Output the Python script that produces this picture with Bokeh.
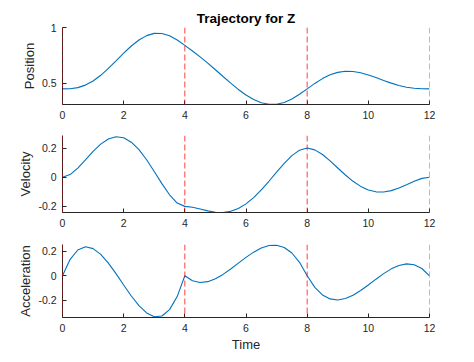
from bokeh.plotting import figure
from bokeh.models import Range1d, Span, FixedTicker, CustomJSTickFormatter, ColumnDataSource
from bokeh.layouts import column
from bokeh.embed import file_html
from bokeh.resources import INLINE

# ---- data ----
time = [0, 0.25, 0.5, 0.75, 1, 1.25, 1.5, 1.75, 2, 2.25, 2.5, 2.75, 3, 3.25, 3.5, 3.75,
        4, 4.25, 4.5, 4.75, 5, 5.25, 5.5, 5.75, 6, 6.25, 6.5, 6.75, 7, 7.25, 7.5, 7.75,
        8, 8.25, 8.5, 8.75, 9, 9.25, 9.5, 9.75, 10, 10.25, 10.5, 10.75, 11, 11.25, 11.5, 11.75, 12]

position = [0.45, 0.4516, 0.4612, 0.4838, 0.5208, 0.5717, 0.6331, 0.7010, 0.770, 0.8343,
            0.8883, 0.9271, 0.9473, 0.9467, 0.9259, 0.8881, 0.84,
            0.7895, 0.7367, 0.6805, 0.6215, 0.5609, 0.5012, 0.4449, 0.395, 0.3544,
            0.3259, 0.3115, 0.3122, 0.3286, 0.3592, 0.4012, 0.45,
            0.4989, 0.5421, 0.5757, 0.5977, 0.6074, 0.6056, 0.5941, 0.575, 0.5513,
            0.5258, 0.5014, 0.4805, 0.4647, 0.4550, 0.4507, 0.45]

velocity = [0, 0.0181, 0.0623, 0.1191, 0.1771, 0.2271, 0.2622, 0.2775, 0.2703, 0.2402,
            0.1888, 0.1199, 0.0396, -0.0440, -0.1205, -0.1774, -0.2,
            -0.2055, -0.2178, -0.2310, -0.2403, -0.2422, -0.2341, -0.2144, -0.1828, -0.1398,
            -0.0872, -0.0278, 0.0347, 0.0952, 0.1478, 0.1855, 0.2,
            0.1875, 0.1555, 0.1119, 0.0633, 0.0151, -0.0281, -0.0630, -0.0875, -0.1003,
            -0.1015, -0.0921, -0.0742, -0.0512, -0.0273, -0.0081, 0]

acceleration = [0, 0.1343, 0.2102, 0.2364, 0.2215, 0.1742, 0.1033, 0.0173, -0.075, -0.1650,
                -0.2439, -0.3031, -0.3340, -0.3278, -0.2758, -0.1695, 0,
                -0.0398, -0.0543, -0.0478, -0.0246, 0.0111, 0.0549, 0.1027, 0.15, 0.1926,
                0.2263, 0.2467, 0.2496, 0.2307, 0.1856, 0.1101, 0,
                -0.0945, -0.1559, -0.1885, -0.1969, -0.1853, -0.1582, -0.1200, -0.075, -0.0277,
                0.0176, 0.0564, 0.0844, 0.0971, 0.0902, 0.0593, 0]

waypoint_times = [0, 4, 8, 12]
x_ticks = [0, 2, 4, 6, 8, 10, 12]
x_limits = (0, 12)
position_ticks = [0.5, 1]
velocity_ticks = [-0.2, 0, 0.2]
acceleration_ticks = [-0.2, 0, 0.2]
position_limits = (0.31, 1.0)
velocity_limits = (-0.242, 0.286)
acceleration_limits = (-0.34, 0.255)

title_text = "Trajectory for Z"
x_label = "Time"

source = ColumnDataSource(dict(t=time, pos=position, vel=velocity, acc=acceleration))

FONT = "Liberation Sans"
AX = "#262626"
LINE = "#0072BD"


def make_panel(col, ylabel, yticks, ylim, height, top, bottom, title=None, xlabel=None):
    p = figure(width=459, height=height, output_backend="svg", toolbar_location=None,
               x_range=Range1d(*x_limits), y_range=Range1d(*ylim),
               min_border_left=62, min_border_right=30,
               min_border_top=top, min_border_bottom=bottom,
               title=title)
    p.outline_line_color = None
    p.xgrid.visible = False
    p.ygrid.visible = False
    p.background_fill_color = "white"
    p.border_fill_color = "white"
    if title:
        p.title.text_font = FONT
        p.title.text_font_size = "13.5px"
        p.title.text_font_style = "bold"
        p.title.text_color = "black"
        p.title.align = "center"
        p.title.standoff = 4
        p.title.offset = 0
    fmt = CustomJSTickFormatter(code="return tick.toString();")
    for ax in (p.xaxis[0], p.yaxis[0]):
        ax.axis_line_color = AX
        ax.axis_line_width = 1
        ax.major_tick_line_color = AX
        ax.major_tick_in = 4
        ax.major_tick_out = 0
        ax.minor_tick_line_color = None
        ax.major_label_text_font = FONT
        ax.major_label_text_font_size = "10.5px"
        ax.major_label_text_color = AX
        ax.axis_label_text_font = FONT
        ax.axis_label_text_font_size = "13px"
        ax.axis_label_text_font_style = "normal"
        ax.axis_label_text_color = AX
        ax.formatter = fmt
    p.xaxis.ticker = FixedTicker(ticks=x_ticks)
    p.yaxis.ticker = FixedTicker(ticks=yticks)
    p.xaxis.major_label_standoff = 6
    p.yaxis.major_label_standoff = 6
    p.yaxis.axis_label = ylabel
    p.yaxis.axis_label_standoff = 2
    if xlabel:
        p.xaxis.axis_label = xlabel
        p.xaxis.axis_label_standoff = 2
    p.line("t", col, source=source, line_color=LINE, line_width=1.1)
    for w in waypoint_times:
        p.add_layout(Span(location=w, dimension="height", line_color="#ff0000",
                          line_alpha=0.75, line_width=1, line_dash="6 3"))
    return p


p1 = make_panel("pos", "Position", position_ticks, position_limits, 125, 27, 21, title=title_text)
p2 = make_panel("vel", "Velocity", velocity_ticks, velocity_limits, 108, 10, 21)
p3 = make_panel("acc", "Acceleration", acceleration_ticks, acceleration_limits, 121, 11, 33, xlabel=x_label)

layout = column(p1, p2, p3, spacing=0)
open("out.html", "w").write(file_html(layout, INLINE))
